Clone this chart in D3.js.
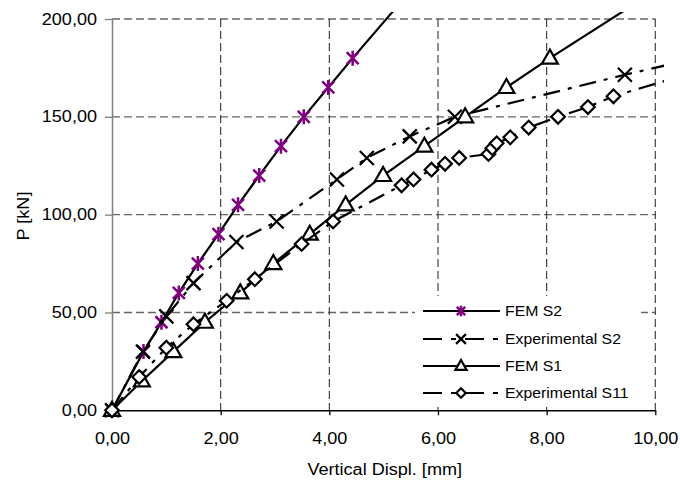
<!DOCTYPE html>
<html><head><meta charset="utf-8">
<script src="https://cdn.jsdelivr.net/npm/d3@7"></script>
<style>body{margin:0;background:#fff} text{font-family:Arial,"Liberation Sans",sans-serif;fill:#000}</style>
</head><body><svg id="c" width="680" height="481"></svg>
<script>
// ---- data ----
const xTickValues = [0, 2, 4, 6, 8, 10];
const yTickValues = [0, 50, 100, 150, 200];
const xTitle = "Vertical Displ. [mm]";
const yTitle = "P [kN]";
const seriesNames = ["FEM S2", "Experimental S2", "FEM S1", "Experimental S11"];

const femS2X = [0, 0.58, 0.91, 1.23, 1.58, 1.96, 2.32, 2.71, 3.11, 3.53, 3.98, 4.43, 5.36];
const femS2P = [0, 30, 45, 60, 75, 90, 105, 120, 135, 150, 165, 180, 210];

const expS2X = [0, 0.57, 1.0, 1.5, 2.29, 3.03, 4.14, 4.69, 5.48, 6.31, 9.44, 10.3];
const expS2P = [0, 30, 48, 65, 86, 96.5, 118, 129, 140, 150, 171.5, 177];

const femS1X = [0, 0.55, 1.13, 1.71, 2.36, 2.97, 3.64, 4.3, 4.99, 5.75, 6.5, 7.26, 8.06, 9.75];
const femS1P = [0, 15, 30, 45, 60, 75, 90, 105, 120, 135, 150, 165, 180, 210];

const expS11X = [0, 0.5, 1.0, 1.5, 2.11, 2.63, 3.49, 4.07, 5.33, 5.55, 5.88, 6.13, 6.39, 6.93, 7.0, 7.08, 7.33, 7.67, 8.21, 8.76, 9.23, 10.5];
const expS11P = [0, 17, 32, 44, 56, 67, 85, 96.5, 115, 118, 123, 126, 129, 131, 134, 136.5, 139.5, 144.5, 150, 155, 160.5, 171];

// ---- layout ----
const SX = 1.13; // horizontal text stretch
const FONT = "Arial, 'Liberation Sans', sans-serif";
const svg = d3.select("#c");
const x = d3.scaleLinear().domain([0, 10]).range([112, 655.3]);
const y = d3.scaleLinear().domain([0, 200]).range([410.3, 19]);
const fmt = d => d3.format(".2f")(d).replace(".", ",");

// grid
const grid = svg.append("g");
grid.selectAll(".hg").data(yTickValues.filter(v => v > 0)).join("line")
  .attr("x1", x(0)).attr("x2", x(10)).attr("y1", d => y(d)).attr("y2", d => y(d))
  .attr("stroke", "#666").attr("stroke-width", 1.3).attr("stroke-dasharray", "8,4");
grid.selectAll(".vg").data(xTickValues.filter(v => v > 0)).join("line")
  .attr("x1", d => x(d)).attr("x2", d => x(d)).attr("y1", y(200)).attr("y2", y(0))
  .attr("stroke", "#333").attr("stroke-width", 1.1).attr("stroke-dasharray", "8,4");

// axes
const yAxis = svg.append("g").attr("transform", `translate(${x(0)},0)`)
  .call(d3.axisLeft(y).tickValues(yTickValues).tickFormat(fmt).tickSize(7).tickSizeOuter(0).tickPadding(8));
yAxis.select(".domain").attr("stroke", "#808080").attr("stroke-width", 1.5);
yAxis.selectAll(".tick line").attr("stroke", "#808080").attr("stroke-width", 1.3);
yAxis.selectAll("text").attr("font-size", 16).attr("font-family", FONT)
  .attr("x", -15 / SX).attr("transform", `scale(${SX},1)`).attr("fill", "#000");

const xAxis = svg.append("g").attr("transform", `translate(0,${y(0)})`)
  .call(d3.axisBottom(x).tickValues(xTickValues).tickFormat(fmt).tickSize(5).tickSizeOuter(0).tickPadding(17));
xAxis.select(".domain").attr("stroke", "#000").attr("stroke-width", 1.5);
xAxis.selectAll(".tick line").attr("stroke", "#000").attr("stroke-width", 1.3);
xAxis.selectAll("text").attr("font-size", 16).attr("font-family", FONT)
  .attr("transform", `scale(${SX},1)`).attr("fill", "#000");

// titles
svg.append("text").attr("transform", `translate(384.7,475) scale(${SX},1)`)
  .attr("text-anchor", "middle").attr("font-size", 16).text(xTitle);
svg.append("text").attr("transform", `translate(29,216) rotate(-90) scale(${SX},1)`)
  .attr("text-anchor", "middle").attr("font-size", 16).text(yTitle);

// markers
const markerDefs = {
  asterisk: {draw: (g, s) => {
    g.append("path").attr("d", `M${-6*s},${-6*s}L${6*s},${6*s}M${-6*s},${6*s}L${6*s},${-6*s}M0,${-7.5*s}L0,${7.5*s}`)
      .attr("stroke", "#800080").attr("stroke-width", 2.5).attr("fill", "none");
  }},
  cross: {draw: (g, s) => {
    g.append("path").attr("d", `M${-7*s},${-7*s}L${7*s},${7*s}M${-7*s},${7*s}L${7*s},${-7*s}`)
      .attr("stroke", "#000").attr("stroke-width", 2.2).attr("fill", "none");
  }},
  triangle: {draw: (g, s) => {
    g.append("path").attr("d", `M0,${-8.5*s}L${8*s},${5.5*s}L${-8*s},${5.5*s}Z`)
      .attr("stroke", "#000").attr("stroke-width", 2.2).attr("fill", "#fff");
  }},
  diamond: {draw: (g, s) => {
    g.append("path").attr("d", `M0,${-6.8*s}L${6.8*s},0L0,${6.8*s}L${-6.8*s},0Z`)
      .attr("stroke", "#000").attr("stroke-width", 2.2).attr("fill", "#fff");
  }}
};

const series = [
  {name: seriesNames[0], xs: femS2X, ps: femS2P, dash: null, marker: "asterisk"},
  {name: seriesNames[1], xs: expS2X, ps: expS2P, dash: "17,8,4,8", marker: "cross"},
  {name: seriesNames[2], xs: femS1X, ps: femS1P, dash: null, marker: "triangle"},
  {name: seriesNames[3], xs: expS11X, ps: expS11P, dash: "17,8,4,8", marker: "diamond"}
];

svg.append("defs").append("clipPath").attr("id", "plotclip")
  .append("rect").attr("x", 90).attr("y", 12).attr("width", 574).attr("height", 420);

const plot = svg.append("g").attr("clip-path", "url(#plotclip)");
const line = d3.line().x(d => x(d[0])).y(d => y(d[1]));
series.forEach(s => {
  const pts = s.xs.map((v, i) => [v, s.ps[i]]);
  const g = plot.append("g");
  g.append("path").datum(pts).attr("d", line).attr("fill", "none")
    .attr("stroke", "#000").attr("stroke-width", 2.2)
    .attr("stroke-dasharray", s.dash);
  pts.forEach(p => {
    const mg = g.append("g").attr("transform", `translate(${x(p[0])},${y(p[1])})`);
    markerDefs[s.marker].draw(mg, 1);
  });
});

// legend
const leg = svg.append("g");
leg.append("rect").attr("x", 415).attr("y", 296).attr("width", 226).attr("height", 111).attr("fill", "#fff");
const legRowsY = [311, 339, 366, 393];
series.forEach((s, i) => {
  const ly = legRowsY[i];
  leg.append("line").attr("x1", 423).attr("x2", 500).attr("y1", ly).attr("y2", ly)
    .attr("stroke", "#000").attr("stroke-width", 2.2).attr("stroke-dasharray", s.dash ? "19,9,5,9" : null);
  const mg = leg.append("g").attr("transform", `translate(461,${ly})`);
  markerDefs[s.marker].draw(mg, 0.7);
  leg.append("text").attr("transform", `translate(505,${ly + 5}) scale(${SX},1)`)
    .attr("font-size", 14).text(s.name);
});
</script>
</body></html>
